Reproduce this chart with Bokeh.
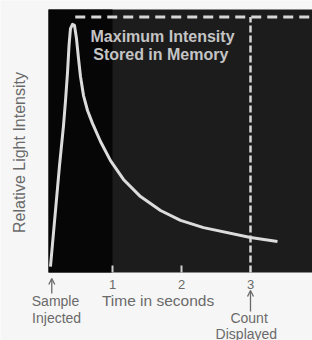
import numpy as np
from bokeh.plotting import figure
from bokeh.models import Label, Arrow, OpenHead
from bokeh.embed import file_html
from bokeh.resources import INLINE

# ---- data ----
time_s = [0.101, 0.174, 0.232, 0.290, 0.319, 0.348, 0.370, 0.391, 0.420, 0.449,
          0.478, 0.507, 0.536, 0.580, 0.638, 0.710, 0.826, 0.971, 1.159, 1.406,
          1.696, 1.986, 2.319, 3.000, 3.391]
intensity = [0.024, 0.250, 0.431, 0.592, 0.693, 0.806, 0.915, 0.983, 1.000, 0.996,
             0.943, 0.863, 0.790, 0.713, 0.653, 0.601, 0.528, 0.451, 0.375, 0.306,
             0.250, 0.210, 0.181, 0.141, 0.125]
max_stored = 1.03
count_time = 3.0
inject_time = 0.12
tick_values = [1, 2, 3]
tick_labels = ["1", "2", "3"]

W, H = 312, 340
FONT = "Liberation Sans"
TXT = "#6a6a6a"

# the frame covers the whole canvas; pixel px = 43 + 69*x, py = 272 - 248.1*y
X0, X1 = -43 / 69, (W - 43) / 69
Y0, Y1 = -(H - 272) / 248.1, 272 / 248.1
PLOT_LEFT = (48 - 43) / 69
PLOT_TOP = (272 - 9) / 248.1

def ydat(py):
    return (272 - py) / 248.1

p = figure(width=W, height=H, output_backend="svg", toolbar_location=None,
           x_range=(X0, X1), y_range=(Y0, Y1),
           min_border_left=0, min_border_right=0, min_border_top=0,
           min_border_bottom=0)
p.background_fill_color = "#f6f6f6"
p.border_fill_color = "#f6f6f6"
p.outline_line_color = None
p.grid.visible = False
p.yaxis.visible = False
p.xaxis.visible = False

# plot area: dark gray, with a darker band before 1 s
p.quad(left=[PLOT_LEFT], right=[X1 + 0.1], bottom=[0], top=[PLOT_TOP],
       fill_color="#1c1c1c", line_color=None)
p.quad(left=[PLOT_LEFT], right=[1.0], bottom=[0], top=[PLOT_TOP],
       fill_color="#060606", line_color=None)

# tick marks inside the plot area
p.segment(x0=tick_values[:2], x1=tick_values[:2], y0=[0, 0], y1=[0.028, 0.028],
          line_color="#cfcfcf", line_width=2)

# dashed max line and count line
p.line(x=[0.46, X1 + 0.1], y=[max_stored, max_stored], line_color="#d6d6d6",
       line_width=3, line_dash="10 6")
p.line(x=[count_time, count_time], y=[0, max_stored], line_color="#d6d6d6",
       line_width=2.5, line_dash="7 3")

# decay curve
p.line(x=time_s, y=intensity, line_color="#dcdcdc", line_width=3,
       line_join="round")

def lab(x, py, text, size="14px", color=TXT, bold=False, angle=0):
    p.add_layout(Label(x=x, y=ydat(py), text=text, text_font=FONT,
                       text_font_size=size, text_color=color,
                       text_align="center", text_baseline="middle",
                       angle=angle,
                       text_font_style="bold" if bold else "normal"))

def arrow(x, py_start, py_end):
    p.add_layout(Arrow(end=OpenHead(size=6, line_color=TXT, line_width=1.3),
                       x_start=x, y_start=ydat(py_start), x_end=x,
                       y_end=ydat(py_end), line_color=TXT, line_width=1.3))

lab(1.725, 36, "Maximum Intensity", size="16px", color="#c4c4c4", bold=True)
lab(1.70, 54, "Stored in Memory", size="16px", color="#c4c4c4", bold=True)

for tv, tl in zip(tick_values, tick_labels):
    lab(tv, 284, tl, size="13px")

arrow(inject_time, 293, 278)
lab(0.174, 300, "Sample")
lab(0.19, 317, "Injected")
lab(1.66, 300, "Time in seconds", size="15.5px")
arrow(count_time, 311, 290)
lab(count_time - 0.02, 317, "Count")
lab(count_time - 0.06, 333, "Displayed")
lab((19 - 43) / 69, 152, "Relative Light Intensity", size="16px",
    angle=np.pi / 2)

open("out.html", "w").write(file_html(p, INLINE))
